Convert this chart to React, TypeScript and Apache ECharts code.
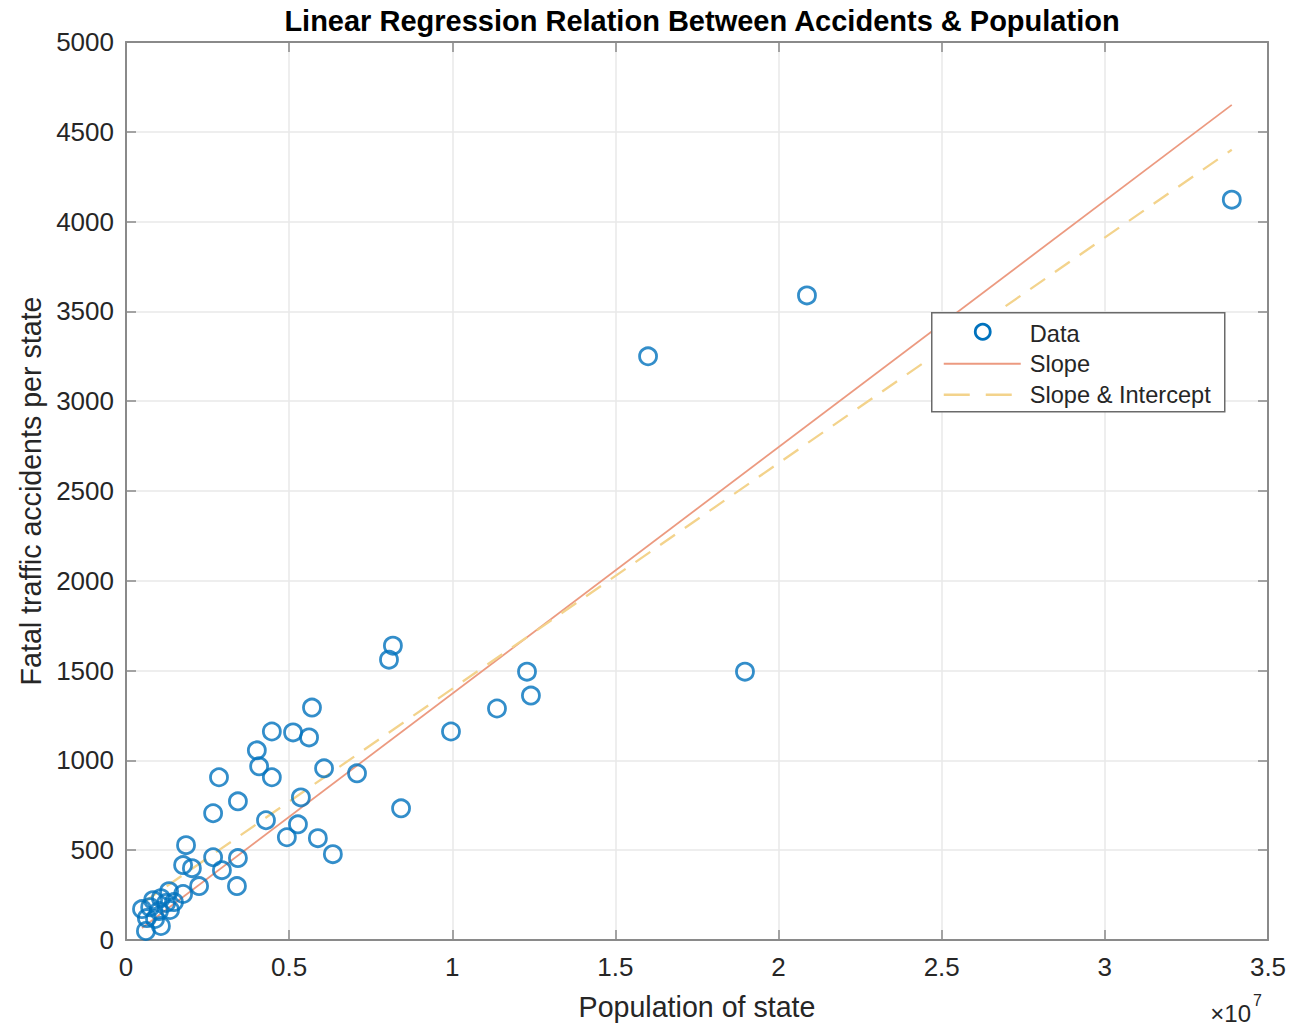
import React, { useEffect, useRef } from "react";
import * as echarts from "echarts";

// Population of state (people) and fatal traffic accidents per state
const population: number[] = [
  33890000, 20870000, 16000000, 18970000, 12290000, 12410000, 11370000, 9960000,
  8180000, 8060000, 8430000, 7080000, 6070000, 5700000, 5610000, 5120000,
  4470000, 4010000, 4080000, 4470000, 2850000, 3430000, 5360000, 2670000,
  4290000, 5270000, 4930000, 5880000, 6340000, 1840000, 2670000, 3430000,
  2940000, 2020000, 1750000, 3400000, 2240000, 1320000, 1750000, 490000,
  830000, 1070000, 640000, 1010000, 1350000, 1230000, 610000, 1070000,
  890000, 740000, 1470000,
];
const fatalities: number[] = [
  4122, 3589, 3250, 1494, 1494, 1361, 1289, 1161,
  1639, 1561, 733, 928, 956, 1294, 1128, 1156,
  1161, 1056, 967, 906, 906, 772, 794, 706,
  667, 644, 572, 567, 478, 528, 461, 456,
  389, 400, 417, 300, 300, 272, 256, 172,
  222, 233, 122, 161, 167, 206, 50, 78,
  117, 183, 211,
];

// Regression line endpoints (x range of data)
const fitX: number[] = [490000, 33890000];
const slopeY: number[] = [67, 4650];
const slopeInterceptY: number[] = [204, 4400];

const xTicks: number[] = [0, 0.5e7, 1e7, 1.5e7, 2e7, 2.5e7, 3e7, 3.5e7];
const yTicks: number[] = [0, 500, 1000, 1500, 2000, 2500, 3000, 3500, 4000, 4500, 5000];

const title = "Linear Regression Relation Between Accidents & Population";
const xName = "Population of state";
const yName = "Fatal traffic accidents per state";
const legendNames = ["Data", "Slope", "Slope & Intercept"];

const FONT = "'Liberation Sans', Arial, Helvetica, sans-serif";
const TXT = "#262626";
const FRAME = "#8a8a8a";
const BLUE = "#0072BD";
const RED = "#EC9A80";
const YEL = "#F3D38C";

export default function App() {
  const ref = useRef<HTMLDivElement>(null);
  useEffect(() => {
    if (!ref.current) return;
    const chart = echarts.init(ref.current, null, { renderer: "svg" });
    const scatterData = population.map((p, i) => [p, fatalities[i]]);
    const slopeData = fitX.map((x, i) => [x, slopeY[i]]);
    const interData = fitX.map((x, i) => [x, slopeInterceptY[i]]);
    const xMax = xTicks[xTicks.length - 1];
    const yMax = yTicks[yTicks.length - 1];
    const common = {
      axisLine: { show: true, onZero: false, lineStyle: { color: FRAME, width: 2 } },
      axisTick: { show: true, inside: true, length: 10, lineStyle: { color: FRAME, width: 1.5 } },
    };
    chart.setOption({
      animation: false,
      backgroundColor: "#ffffff",
      title: {
        text: title,
        left: 697,
        textAlign: "center",
        top: 1,
        textStyle: { fontFamily: FONT, fontWeight: "bold", fontSize: 29, color: "#000" },
      },
      grid: { left: 126, right: 46, top: 42, bottom: 84, containLabel: false },
      xAxis: [
        {
          type: "value",
          min: 0,
          max: xMax,
          interval: 0.5e7,
          name: xName,
          nameLocation: "middle",
          nameGap: 52,
          nameTextStyle: { fontFamily: FONT, fontSize: 28.6, color: TXT },
          ...common,
          axisLabel: {
            fontFamily: FONT,
            fontSize: 26,
            color: TXT,
            margin: 14,
            formatter: (v: number) => String(+(v / 1e7).toFixed(1)),
          },
          splitLine: { show: true, lineStyle: { color: "#e8e8e8", width: 1.5 } },
        },
        {
          type: "value",
          position: "top",
          min: 0,
          max: xMax,
          interval: 0.5e7,
          ...common,
          axisLabel: { show: false },
          splitLine: { show: false },
        },
      ],
      yAxis: [
        {
          type: "value",
          min: 0,
          max: yMax,
          interval: 500,
          name: yName,
          nameLocation: "middle",
          nameGap: 72,
          nameTextStyle: { fontFamily: FONT, fontSize: 28.6, color: TXT },
          ...common,
          axisLabel: { fontFamily: FONT, fontSize: 26, color: TXT, margin: 12, formatter: (v: number) => String(v) },
          splitLine: { show: true, lineStyle: { color: "#e8e8e8", width: 1.5 } },
        },
        {
          type: "value",
          position: "right",
          min: 0,
          max: yMax,
          interval: 500,
          ...common,
          axisLabel: { show: false },
          splitLine: { show: false },
        },
      ],
      series: [
        {
          name: legendNames[0],
          type: "scatter",
          data: scatterData,
          symbol: "circle",
          symbolSize: 17,
          itemStyle: { color: "rgba(255,255,255,0)", borderColor: BLUE, borderWidth: 2.8 },
          z: 3,
        },
        {
          name: legendNames[1],
          type: "line",
          data: slopeData,
          showSymbol: false,
          symbol: "none",
          lineStyle: { color: RED, width: 1.8 },
          z: 2,
        },
        {
          name: legendNames[2],
          type: "line",
          data: interData,
          showSymbol: false,
          symbol: "none",
          lineStyle: { color: YEL, width: 2.3, type: [18, 12] },
          z: 2,
        },
      ],
      graphic: [
        {
          type: "group",
          left: 931,
          top: 312,
          z: 100,
          children: [
            {
              type: "rect",
              shape: { x: 0, y: 0, width: 293, height: 99 },
              style: { fill: "#ffffff", stroke: "#6a6a6a", lineWidth: 1.5 },
              z: 100,
            },
            {
              type: "circle",
              shape: { cx: 51, cy: 19, r: 7.5 },
              style: { fill: "none", stroke: BLUE, lineWidth: 2.8 },
              z: 101,
            },
            {
              type: "text",
              x: 98,
              y: 21,
              z: 101,
              style: { text: legendNames[0], fontFamily: FONT, fontSize: 23.6, fill: TXT, verticalAlign: "middle" },
            },
            {
              type: "line",
              shape: { x1: 12, y1: 51, x2: 89, y2: 51 },
              style: { stroke: RED, lineWidth: 1.8 },
              z: 101,
            },
            {
              type: "text",
              x: 98,
              y: 51,
              z: 101,
              style: { text: legendNames[1], fontFamily: FONT, fontSize: 23.6, fill: TXT, verticalAlign: "middle" },
            },
            {
              type: "line",
              shape: { x1: 12, y1: 82, x2: 89, y2: 82 },
              style: { stroke: YEL, lineWidth: 2.4, lineDash: [26, 16] },
              z: 101,
            },
            {
              type: "text",
              x: 98,
              y: 82,
              z: 101,
              style: { text: legendNames[2], fontFamily: FONT, fontSize: 23.6, fill: TXT, verticalAlign: "middle" },
            },
          ],
        },
        {
          type: "text",
          x: 1251,
          y: 1013,
          style: { text: "×10", fontFamily: FONT, fontSize: 24, fill: TXT, align: "right", verticalAlign: "middle" },
        },
        {
          type: "text",
          x: 1253,
          y: 1000,
          style: { text: "7", fontFamily: FONT, fontSize: 16, fill: TXT, align: "left", verticalAlign: "middle" },
        },
      ],
    });
    return () => chart.dispose();
  }, []);
  return (
    <div
      ref={ref}
      style={{ position: "fixed", left: 0, top: 0, width: 1314, height: 1026, background: "#fff" }}
    />
  );
}
